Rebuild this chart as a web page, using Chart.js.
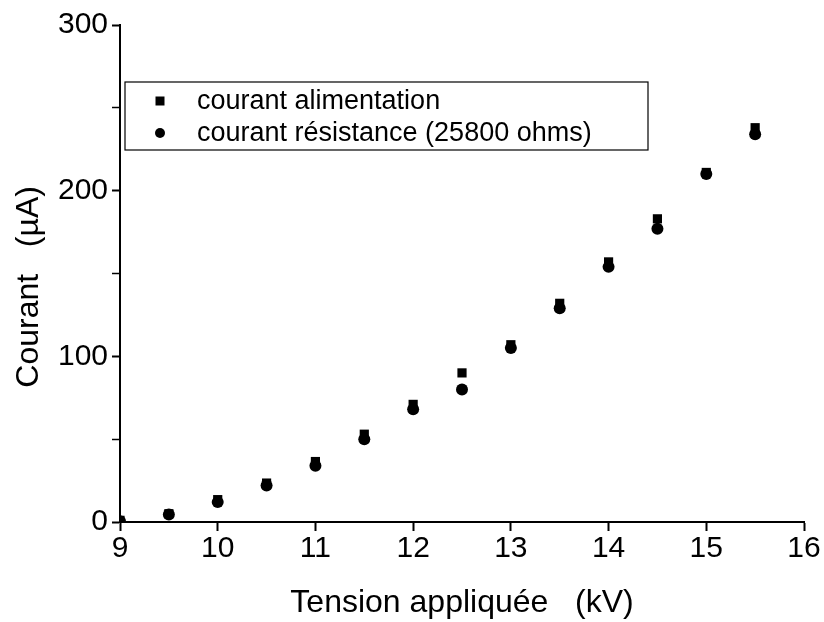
<!DOCTYPE html>
<html><head><meta charset="utf-8">
<script src="https://cdn.jsdelivr.net/npm/chart.js@4/dist/chart.umd.min.js"></script>
<style>html,body{margin:0;padding:0;background:#fff}#wrap{width:824px;height:622px}</style>
</head><body><div id="wrap"><canvas id="c" width="824" height="622"></canvas></div>
<script>
const tensionKV = [9, 9.5, 10, 10.5, 11, 11.5, 12, 12.5, 13, 13.5, 14, 14.5, 15, 15.5];
const courantAlimentation = [1, 5, 13.5, 23.5, 36.5, 53, 71, 90, 107, 132, 157, 183, 211, 238];
const courantResistance = [0.5, 4.5, 12, 22, 34, 50, 68, 80, 105, 129, 154, 177, 210, 234];
const seriesLabels = ['courant alimentation', 'courant résistance (25800 ohms)'];
const xTitle = 'Tension appliquée   (kV)';
const yTitle = 'Courant   (µA)   ';

const FONT = 'Liberation Sans, Arial, sans-serif';

const legendBox = {
  id: 'legendBox',
  afterDraw(chart) {
    const ctx = chart.ctx;
    const x0 = 125, y0 = 82, w = 523, h = 68;
    ctx.save();
    ctx.strokeStyle = '#000';
    ctx.lineWidth = 1.2;
    ctx.strokeRect(x0, y0, w, h);
    ctx.fillStyle = '#000';
    ctx.font = '27px ' + FONT;
    ctx.textBaseline = 'middle';
    const rows = [y0 + 19, y0 + 51];
    const ordered = seriesLabels.map(l => chart.data.datasets.find(d => d.label === l));
    ordered.forEach((ds, i) => {
      const cy = rows[i];
      const cx = 160;
      ctx.beginPath();
      if (ds.pointStyle === 'rect') {
        ctx.rect(cx - 4.5, cy - 4.5, 9, 9);
      } else {
        ctx.arc(cx, cy, 5, 0, Math.PI * 2);
      }
      ctx.fill();
      ctx.fillText(ds.label, 197, cy + 1);
    });
    ctx.restore();
  }
};

new Chart(document.getElementById('c'), {
  type: 'scatter',
  data: {
    datasets: [
      {
        label: seriesLabels[1],
        data: tensionKV.map((x, i) => ({x, y: courantResistance[i]})),
        pointStyle: 'circle', pointRadius: 6,
        backgroundColor: '#000', borderColor: '#000', borderWidth: 0
      },
      {
        label: seriesLabels[0],
        data: tensionKV.map((x, i) => ({x, y: courantAlimentation[i]})),
        pointStyle: 'rect', pointRadius: 6.5,
        backgroundColor: '#000', borderColor: '#000', borderWidth: 0
      }
    ]
  },
  options: {
    responsive: false,
    animation: false,
    layout: {padding: {top: 25, right: 20, left: 0, bottom: 0}},
    plugins: {legend: {display: false}, tooltip: {enabled: false}},
    scales: {
      x: {
        type: 'linear', min: 9, max: 16,
        afterFit(s) { s.height = 100; },
        ticks: {stepSize: 1, color: '#000', font: {family: FONT, size: 30}, padding: 0},
        grid: {display: true, drawOnChartArea: false, drawTicks: true, tickLength: 9, tickColor: '#000', tickWidth: 2},
        border: {display: true, color: '#000', width: 2},
        title: {display: true, text: xTitle, color: '#000', font: {family: FONT, size: 32}, padding: {top: 0, bottom: 0}}
      },
      y: {
        type: 'linear', min: 0, max: 300,
        afterFit(s) { s.width = 120; },
        ticks: {stepSize: 50, color: '#000', font: {family: FONT, size: 30}, padding: 4,
          callback: v => (v % 100 === 0 ? String(v) : '')},
        grid: {display: true, drawOnChartArea: false, drawTicks: true, tickLength: 8, tickColor: '#000',
          tickWidth: ctx => (ctx.tick && ctx.tick.value % 100 === 0 ? 2 : 1.5)},
        border: {display: true, color: '#000', width: 2},
        title: {display: true, text: yTitle, color: '#000', font: {family: FONT, size: 32}, padding: {top: 10, bottom: 0}}
      }
    }
  },
  plugins: [legendBox]
});
</script>
</body></html>
